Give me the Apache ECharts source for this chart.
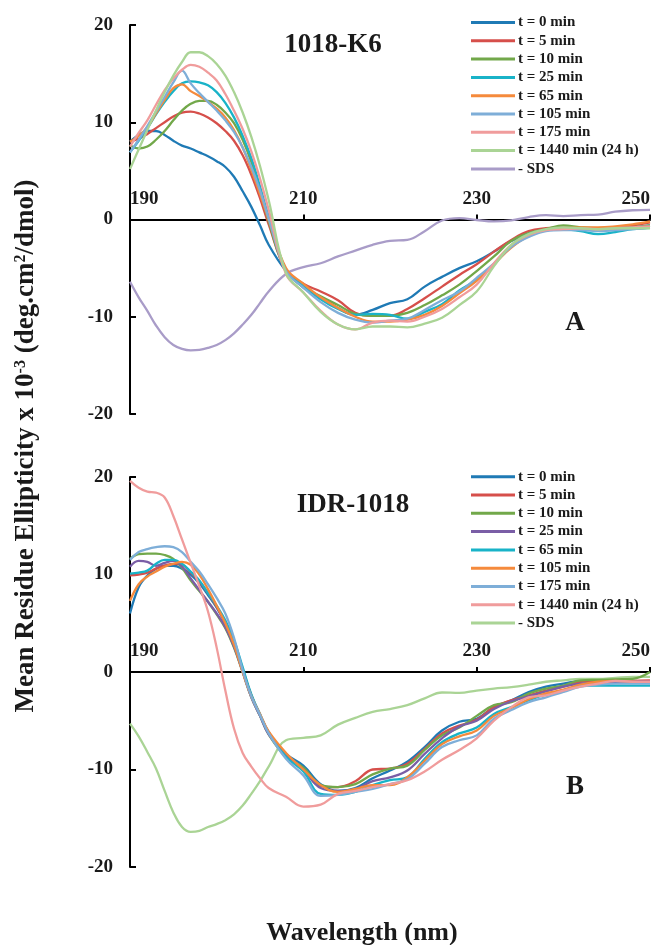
<!DOCTYPE html>
<html><head><meta charset="utf-8">
<script src="https://cdn.jsdelivr.net/npm/echarts@6/dist/echarts.min.js"></script>
<style>html,body{margin:0;padding:0;background:#fff}#c{width:662px;height:945px}</style>
</head><body><div id="c"></div>
<script>
// Wavelength grid (nm): 1 nm steps 190-206, then 2 nm steps 208-250
const wavelengths = [190,191,192,193,194,195,196,197,198,199,200,201,202,203,204,205,206,
  208,210,212,214,216,218,220,222,224,226,228,230,232,234,236,238,240,242,244,246,248,250];

const xTicks = [190, 210, 230, 250];
const yTicks = [-20, -10, 0, 10, 20];

const namesA = ['t = 0 min','t = 5 min','t = 10 min','t = 25 min','t = 65 min','t = 105 min','t = 175 min','t = 1440 min (24 h)','- SDS'];
const namesB = ['t = 0 min','t = 5 min','t = 10 min','t = 25 min','t = 65 min','t = 105 min','t = 175 min','t = 1440 min (24 h)','- SDS'];

// Panel A: 1018-K6
const A_t0    = [8.0,8.7,9.1,9.1,8.7,8.1,7.6,7.3,6.9,6.5,6.0,5.4,4.4,2.9,1.3,-0.6,-2.6, -5.3,-7.0,-8.0,-9.1,-9.8,-9.3,-8.6,-8.2,-6.9,-5.9,-5.0,-4.3,-3.3,-2.2,-1.5,-1.0,-0.9,-1.0,-1.1,-1.1,-0.8,-0.6];
const A_t5    = [8.0,8.3,8.8,9.4,10.0,10.6,11.0,11.1,10.9,10.5,9.9,9.1,8.1,6.6,4.6,2.2,-0.5, -5.2,-6.6,-7.4,-8.3,-9.6,-9.9,-9.9,-9.2,-8.1,-6.9,-5.7,-4.6,-3.3,-2.1,-1.2,-0.9,-0.8,-0.9,-0.9,-0.8,-0.6,-0.3];
const A_t10   = [7.6,7.3,7.5,8.2,9.1,10.2,11.2,11.9,12.2,12.2,11.8,11.0,9.9,8.2,5.9,3.0,-0.2, -5.3,-6.9,-7.9,-8.8,-9.7,-9.9,-9.9,-9.6,-8.8,-7.8,-6.7,-5.3,-3.8,-2.2,-1.4,-1.0,-0.6,-0.8,-0.9,-0.9,-0.8,-0.6];
const A_t25   = [6.9,8.1,9.4,10.8,12.1,13.2,14.0,14.2,14.1,13.8,13.1,12.0,10.5,8.6,6.3,3.4,0.3, -5.2,-6.8,-8.2,-9.2,-9.8,-9.7,-9.8,-10.2,-9.5,-8.7,-7.3,-6.2,-4.6,-2.7,-1.5,-1.1,-1.0,-1.2,-1.5,-1.3,-1.0,-0.85];
const A_t65   = [8.0,8.6,9.5,10.9,12.3,13.5,13.9,13.2,12.7,12.1,11.4,10.5,9.2,7.4,5.1,2.6,0.0, -5.0,-6.6,-8.0,-9.1,-10.0,-10.5,-10.5,-10.3,-9.8,-8.9,-7.6,-6.3,-4.6,-2.9,-1.7,-1.1,-0.9,-0.8,-0.8,-0.7,-0.5,-0.2];
const A_t105  = [6.9,8.2,9.6,11.1,12.6,14.1,15.3,14.0,13.0,12.1,11.2,10.2,9.0,7.4,5.4,3.0,0.1, -5.3,-7.0,-8.5,-9.6,-10.3,-10.6,-10.4,-10.2,-9.3,-8.3,-7.4,-6.0,-4.5,-2.8,-1.8,-1.2,-1.1,-1.1,-1.2,-1.1,-1.0,-0.8];
const A_t175  = [7.5,8.9,10.2,11.8,13.3,14.5,15.4,15.9,15.7,15.1,14.3,12.9,11.2,9.3,7.0,4.2,1.0, -5.6,-7.5,-9.4,-10.8,-11.3,-10.6,-10.4,-10.5,-10.0,-9.2,-8.0,-6.7,-4.5,-2.6,-1.6,-1.1,-1.0,-0.9,-1.0,-0.9,-0.8,-0.7];
const A_t1440 = [5.2,7.2,9.2,11.2,13.1,14.8,16.2,17.2,17.2,16.8,16.0,14.8,13.1,11.0,8.5,5.5,2.0, -5.5,-7.5,-9.5,-10.8,-11.3,-11.0,-11.0,-11.1,-10.7,-10.1,-8.8,-7.4,-4.8,-2.6,-1.5,-1.0,-0.8,-0.9,-1.0,-0.9,-0.9,-0.9];
const A_SDS   = [-6.4,-8.0,-9.4,-10.9,-12.1,-12.9,-13.3,-13.45,-13.4,-13.2,-12.9,-12.4,-11.7,-10.8,-9.8,-8.6,-7.4, -5.6,-4.9,-4.5,-3.8,-3.2,-2.6,-2.2,-2.1,-1.2,-0.1,0.15,-0.05,-0.2,-0.1,0.25,0.45,0.35,0.45,0.5,0.8,0.95,1.0];

// Panel B: IDR-1018
const B_t0    = [6.0,8.7,9.9,10.6,10.9,10.9,10.6,10.0,9.1,7.9,6.6,5.0,3.0,0.2,-2.4,-4.4,-6.2, -8.4,-9.6,-11.5,-12.2,-11.9,-10.9,-10.1,-9.2,-7.7,-6.0,-5.1,-4.8,-3.6,-2.9,-2.05,-1.5,-1.2,-0.9,-0.9,-0.8,-0.9,-1.0];
const B_t5    = [9.9,10.0,10.2,10.6,10.9,11.1,11.0,10.2,9.3,8.1,6.7,5.0,3.0,0.3,-2.4,-4.4,-6.2, -8.6,-10.0,-11.7,-11.8,-11.2,-10.0,-9.9,-9.4,-7.9,-6.3,-5.5,-4.9,-3.6,-2.9,-2.4,-1.9,-1.5,-1.0,-0.9,-0.9,-0.9,-0.85];
const B_t10   = [11.6,12.1,12.15,12.15,12.0,11.6,10.7,9.4,8.3,7.2,5.9,4.5,2.5,0.0,-2.6,-4.5,-6.4, -8.7,-9.8,-11.6,-11.8,-11.5,-10.5,-9.9,-9.6,-8.0,-6.5,-5.7,-4.5,-3.4,-3.1,-2.2,-1.7,-1.4,-0.85,-0.8,-0.75,-0.7,0.0];
const B_t25   = [10.8,11.4,11.3,10.9,11.2,11.4,10.8,9.6,8.4,7.2,6.0,4.6,2.6,0.0,-2.6,-4.5,-6.4, -8.6,-10.0,-11.9,-12.2,-12.0,-11.2,-10.8,-10.1,-8.4,-6.8,-5.6,-5.0,-3.8,-3.0,-2.5,-2.0,-1.5,-1.2,-1.1,-1.0,-1.0,-1.0];
const B_t65   = [10.1,10.2,10.4,11.1,11.5,11.5,11.1,10.3,9.4,8.1,6.8,5.3,3.3,0.5,-2.3,-4.3,-6.2, -8.7,-10.2,-12.5,-12.6,-12.3,-11.6,-11.1,-10.8,-8.9,-7.2,-6.3,-5.7,-4.3,-3.6,-2.9,-2.3,-2.0,-1.4,-1.4,-1.4,-1.4,-1.4];
const B_t105  = [7.3,9.0,9.8,10.3,10.8,11.1,11.3,11.0,10.0,8.5,6.8,5.0,2.8,0.0,-2.5,-4.3,-6.1, -8.3,-10.0,-11.6,-12.3,-12.0,-11.6,-11.6,-10.8,-9.1,-7.4,-6.6,-6.0,-4.5,-3.7,-2.8,-2.2,-1.8,-1.3,-1.0,-0.9,-1.0,-1.1];
const B_t175  = [11.5,12.3,12.6,12.8,12.9,12.8,12.3,11.3,10.3,9.0,7.6,6.0,3.5,0.2,-2.5,-4.4,-6.3, -8.9,-10.6,-12.7,-12.6,-12.3,-12.0,-11.5,-11.0,-9.4,-7.7,-7.0,-6.5,-4.8,-3.9,-3.1,-2.6,-2.05,-1.5,-1.3,-1.2,-1.2,-1.2];
const B_t1440 = [19.6,18.9,18.5,18.4,17.9,16.0,13.6,11.2,8.8,6.2,2.5,-1.9,-5.8,-8.3,-9.7,-10.9,-11.9, -12.8,-13.8,-13.6,-12.5,-12.2,-11.8,-11.5,-11.1,-10.2,-9.0,-8.0,-6.8,-5.0,-3.6,-2.6,-2.4,-1.9,-1.5,-1.2,-0.9,-1.0,-1.0];
const B_SDS   = [-5.3,-6.6,-8.2,-9.9,-12.2,-14.4,-15.9,-16.4,-16.3,-15.9,-15.6,-15.2,-14.6,-13.7,-12.5,-11.2,-9.7, -7.0,-6.75,-6.5,-5.4,-4.7,-4.1,-3.8,-3.4,-2.7,-2.1,-2.15,-1.9,-1.7,-1.55,-1.3,-1.0,-0.85,-0.7,-0.7,-0.6,-0.5,-0.5];

const valuesA = [A_t0, A_t5, A_t10, A_t25, A_t65, A_t105, A_t175, A_t1440, A_SDS];
const valuesB = [B_t0, B_t5, B_t10, B_t25, B_t65, B_t105, B_t175, B_t1440, B_SDS];

const colorsA = ['#1f7ab5','#d64f4b','#72a84a','#19b3c8','#f58a3c','#7eaed8','#f09c9c','#aad495','#a99cc8'];
const colorsB = ['#1f7ab5','#d64f4b','#72a84a','#7a5ea6','#19b3c8','#f58a3c','#7eaed8','#f09c9c','#aad495'];

const FONT = '"Liberation Serif","Times New Roman",serif';
const TXT = '#1a1a1a';

const grids = [
  { left: 130, top: 25, width: 520, height: 389 },
  { left: 130, top: 477, width: 520, height: 390 }
];

function mkX(i) {
  // place the axis (line, ticks, labels) on y = 0 of its grid
  const g = grids[i];
  const zeroOffset = -g.height * (yTicks[yTicks.length - 1] / (yTicks[yTicks.length - 1] - yTicks[0]));
  return {
    type: 'value', gridIndex: i, min: xTicks[0], max: xTicks[xTicks.length - 1],
    interval: xTicks[1] - xTicks[0], position: 'top', offset: zeroOffset,
    axisLine: { onZero: false, lineStyle: { color: '#000', width: 2 } },
    axisTick: { show: true, length: 5, lineStyle: { color: '#000', width: 2 } },
    axisLabel: { fontFamily: FONT, fontWeight: 'bold', fontSize: 19, color: TXT, margin: 11,
      alignMinLabel: 'left', alignMaxLabel: 'right' },
    splitLine: { show: false }
  };
}
function mkY(i) {
  return {
    type: 'value', gridIndex: i, min: yTicks[0], max: yTicks[yTicks.length - 1],
    interval: yTicks[1] - yTicks[0],
    axisLine: { show: true, onZero: false, lineStyle: { color: '#000', width: 2 } },
    axisTick: { show: true, inside: true, length: 6, lineStyle: { color: '#000', width: 2 } },
    axisLabel: { fontFamily: FONT, fontWeight: 'bold', fontSize: 19, color: TXT, margin: 17 },
    splitLine: { show: false }
  };
}
function mkSeries(names, vals, colors, idx, prefix) {
  return names.map((n, k) => ({
    name: prefix + n, type: 'line', xAxisIndex: idx, yAxisIndex: idx,
    data: wavelengths.map((w, j) => [w, vals[k][j]]),
    showSymbol: false, smooth: 0.4, color: colors[k],
    lineStyle: { width: 2.3, color: colors[k] }, z: 2 + (k === names.length - 1 ? 0 : k)
  }));
}
function mkLegend(names, prefix, top) {
  return {
    orient: 'vertical', left: 471, top: top, itemWidth: 44, itemHeight: 3, itemGap: 2.3,
    icon: 'rect', selectedMode: false, padding: 0,
    data: names.map(n => prefix + n),
    formatter: name => name.replace(/^B\|/, ''),
    textStyle: { fontFamily: FONT, fontWeight: 'bold', fontSize: 15, color: TXT, lineHeight: 16, padding: [0,0,0,-2] }
  };
}

const chart = echarts.init(document.getElementById('c'), null, { renderer: 'canvas' });
chart.setOption({
  backgroundColor: '#fff',
  animation: false,
  grid: grids,
  xAxis: [mkX(0), mkX(1)],
  yAxis: [mkY(0), mkY(1)],
  legend: [mkLegend(namesA, '', 14.5), mkLegend(namesB, 'B|', 468.7)],
  series: mkSeries(namesA, valuesA, colorsA, 0, '').concat(mkSeries(namesB, valuesB, colorsB, 1, 'B|')),
  graphic: [
    { type: 'text', x: 333, y: 45, style: { text: '1018-K6', font: 'bold 27px ' + FONT, fill: TXT, align: 'center', verticalAlign: 'middle' } },
    { type: 'text', x: 353, y: 505, style: { text: 'IDR-1018', font: 'bold 27px ' + FONT, fill: TXT, align: 'center', verticalAlign: 'middle' } },
    { type: 'text', x: 575, y: 323, style: { text: 'A', font: 'bold 27px ' + FONT, fill: TXT, align: 'center', verticalAlign: 'middle' } },
    { type: 'text', x: 575, y: 787, style: { text: 'B', font: 'bold 27px ' + FONT, fill: TXT, align: 'center', verticalAlign: 'middle' } },
    { type: 'text', x: 362, y: 933, style: { text: 'Wavelength (nm)', font: 'bold 26px ' + FONT, fill: TXT, align: 'center', verticalAlign: 'middle' } },
    { type: 'text', x: 26, y: 446, rotation: Math.PI / 2,
      style: {
        text: '{a|Mean Residue Ellipticity x 10}{s|-3}{a| (deg.cm}{s|2}{a|/dmol)}',
        align: 'center', verticalAlign: 'middle', fill: TXT,
        rich: {
          a: { fontFamily: FONT, fontWeight: 'bold', fontSize: 27, lineHeight: 30, fill: TXT },
          s: { fontFamily: FONT, fontWeight: 'bold', fontSize: 16, lineHeight: 30, verticalAlign: 'top', padding: [2,0,0,0], fill: TXT }
        }
      } }
  ]
});
</script>
</body></html>
